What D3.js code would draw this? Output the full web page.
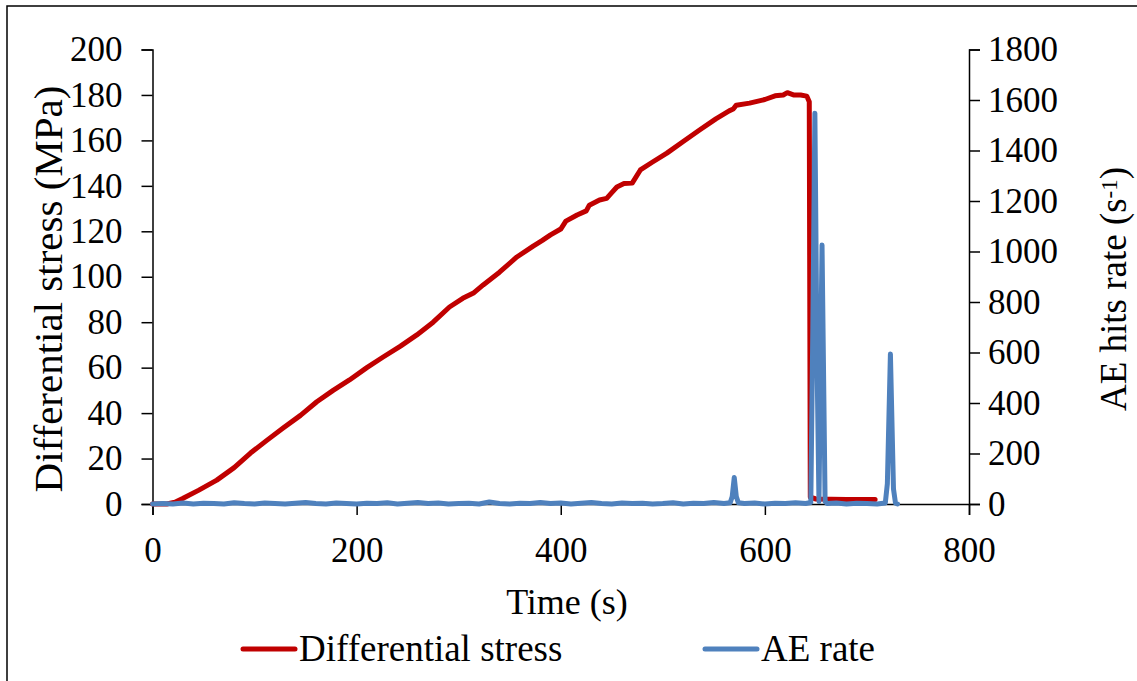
<!DOCTYPE html>
<html>
<head>
<meta charset="utf-8">
<script src="https://cdn.jsdelivr.net/npm/d3@7"></script>
<style>
  body { margin: 0; background: #fff; }
  svg text { fill: #000; }
</style>
</head>
<body>
<svg id="chart" width="1137" height="681" font-family="'Liberation Serif', 'DejaVu Serif', serif"></svg>
<script>
// stress curve (time s, MPa)
const stressTime = [0, 14, 22, 30, 45, 63, 80, 96, 112, 128, 145, 161, 177, 193, 210, 226, 243, 259, 275, 291,
  304, 315, 324, 340, 357, 373, 382, 390, 400, 405, 416, 425, 428, 438, 445, 450, 455, 462, 470, 478,
  490, 504, 520, 536, 552, 565, 569, 572, 585, 600, 610, 618, 622, 628, 635, 641, 643.5, 644.5, 650, 680, 708];
const stress = [0, 0, 0.8, 2.5, 6, 10.5, 16, 22.4, 28, 33.4, 39, 45, 50, 54.6, 60, 64.7, 69.5, 74.4, 80, 86.7,
  90.5, 93, 96.4, 102, 108.7, 113.5, 116, 118.4, 121, 124.5, 127.2, 129, 131.5, 133.8, 134.5, 137, 139.5, 141, 141.2, 147,
  150.5, 154.4, 159.5, 164.6, 169.5, 173, 173.8, 175.5, 176.4, 178, 179.6, 180, 181, 180, 180, 179.5, 177, 3, 2.2, 2, 2];

// AE hits rate (time s, hits/s)
const aeTime = [0, 10, 20, 30, 40, 50, 60, 70, 80, 90, 100, 110, 120, 130, 140, 150, 160, 170, 180, 190,
  200, 210, 220, 230, 240, 250, 260, 270, 280, 290, 300, 310, 320, 330, 340, 350, 360, 370, 380, 390,
  400, 410, 420, 430, 440, 450, 460, 470, 480, 490, 500, 510, 520, 530, 540, 550, 560, 566, 568, 570,
  572, 574, 580, 590, 600, 610, 620, 630, 640, 645, 647, 649, 651, 653, 656, 659, 661, 670, 680, 690,
  700, 710, 718, 720, 723, 726, 728, 730];
const aeRate = [0, 2, 0, 4, 0, 3, 2, 0, 5, 2, 0, 4, 2, 0, 3, 6, 2, 0, 4, 2,
  0, 3, 2, 5, 0, 3, 6, 2, 4, 0, 2, 3, 0, 8, 2, 0, 3, 2, 6, 2,
  4, 0, 3, 6, 2, 0, 4, 2, 3, 0, 2, 5, 0, 3, 2, 6, 2, 5, 30, 105,
  30, 5, 2, 4, 0, 3, 2, 5, 2, 6, 700, 1548, 600, 10, 1026, 10, 2, 4, 0, 3,
  2, 0, 4, 80, 594, 60, 3, 0];

const leftTicks = [0, 20, 40, 60, 80, 100, 120, 140, 160, 180, 200];
const rightTicks = [0, 200, 400, 600, 800, 1000, 1200, 1400, 1600, 1800];
const xTicks = [0, 200, 400, 600, 800];

const svg = d3.select("#chart");
const plotL = 152.5, plotR = 969, plotT = 49.5, plotB = 504;
const serif = "'Liberation Serif', 'DejaVu Serif', serif";

// outer frame
svg.append("rect")
  .attr("x", 7).attr("y", 6)
  .attr("width", 1150).attr("height", 700)
  .attr("fill", "none").attr("stroke", "#000").attr("stroke-width", 1.5);

const x = d3.scaleLinear().domain([0, 800]).range([plotL, plotR]);
const yL = d3.scaleLinear().domain([0, 200]).range([plotB, plotT]);
const yR = d3.scaleLinear().domain([0, 1800]).range([plotB, plotT]);

const fmt = d3.format("d");

// axes
const ax = svg.append("g").attr("transform", `translate(0,${plotB})`)
  .call(d3.axisBottom(x).tickValues(xTicks).tickFormat(fmt).tickSize(11).tickPadding(22));
const ay = svg.append("g").attr("transform", `translate(${plotL},0)`)
  .call(d3.axisLeft(yL).tickValues(leftTicks).tickFormat(fmt).tickSize(11).tickPadding(19));
const ay2 = svg.append("g").attr("transform", `translate(${plotR},0)`)
  .call(d3.axisRight(yR).tickValues(rightTicks).tickFormat(fmt).tickSize(11).tickPadding(8));

[ax, ay, ay2].forEach(g => {
  g.attr("font-family", serif).attr("font-size", 35);
  g.select(".domain").attr("stroke", "#000").attr("stroke-width", 1.5);
  g.selectAll(".tick line").attr("stroke", "#000").attr("stroke-width", 1.5);
  g.selectAll(".tick text").attr("fill", "#000");
});

// series
const stressLine = d3.line().x((d, i) => x(stressTime[i])).y(d => yL(d));
svg.append("path").datum(stress)
  .attr("d", stressLine)
  .attr("fill", "none").attr("stroke", "#C00000").attr("stroke-width", 5)
  .attr("stroke-linejoin", "round").attr("stroke-linecap", "round");

const aeLine = d3.line().x((d, i) => x(aeTime[i])).y(d => yR(d));
svg.append("path").datum(aeRate)
  .attr("d", aeLine)
  .attr("fill", "none").attr("stroke", "#4F81BD").attr("stroke-width", 5)
  .attr("stroke-linejoin", "round").attr("stroke-linecap", "round");

// titles
svg.append("text")
  .attr("transform", "translate(62,289) rotate(-90)")
  .attr("text-anchor", "middle").attr("font-size", 41)
  .text("Differential stress (MPa)");

const rt = svg.append("text")
  .attr("transform", "translate(1126,289) rotate(-90)")
  .attr("text-anchor", "middle").attr("font-size", 37);
rt.append("tspan").text("AE hits rate (s");
rt.append("tspan").attr("dy", "-0.4em").attr("font-size", 23).text("-1");
rt.append("tspan").attr("dy", "0.25em").text(")");

svg.append("text")
  .attr("x", 567).attr("y", 614)
  .attr("text-anchor", "middle").attr("font-size", 36)
  .text("Time (s)");

// legend
const legend = [
  { name: "Differential stress", color: "#C00000", x0: 243 },
  { name: "AE rate", color: "#4F81BD", x0: 705 }
];
legend.forEach(l => {
  svg.append("line")
    .attr("x1", l.x0).attr("x2", l.x0 + 52)
    .attr("y1", 649).attr("y2", 649)
    .attr("stroke", l.color).attr("stroke-width", 5).attr("stroke-linecap", "round");
  svg.append("text")
    .attr("x", l.x0 + 56).attr("y", 661)
    .attr("font-size", 37)
    .text(l.name);
});
</script>
</body>
</html>
